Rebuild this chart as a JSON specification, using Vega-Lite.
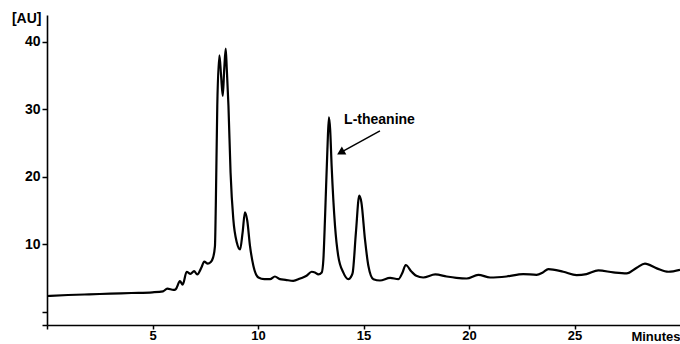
{
  "$schema": "https://vega.github.io/schema/vega-lite/v6.json",
  "width": 633,
  "height": 310,
  "autosize": {"type": "none"},
  "padding": {"left": 47, "top": 15, "right": 0, "bottom": 19},
  "background": "white",
  "config": {
    "view": {"stroke": null},
    "axis": {
      "grid": false,
      "domainColor": "black",
      "domainWidth": 1.6,
      "tickColor": "black",
      "tickWidth": 1.5,
      "labelColor": "black",
      "labelFont": "Liberation Sans",
      "labelFontWeight": "bold",
      "labelFontSize": 14,
      "titleColor": "black",
      "titleFont": "Liberation Sans",
      "titleFontWeight": "bold",
      "titleFontSize": 14
    }
  },
  "datasets": {
    "trace": [
      {"t": 0, "v": 2.3}, {"t": 1, "v": 2.45}, {"t": 2, "v": 2.55}, {"t": 3, "v": 2.65}, {"t": 4, "v": 2.75},
      {"t": 5, "v": 2.85}, {"t": 5.5, "v": 3.0}, {"t": 5.7, "v": 3.4}, {"t": 6.0, "v": 3.2}, {"t": 6.1, "v": 3.3},
      {"t": 6.3, "v": 4.5}, {"t": 6.43, "v": 4.0}, {"t": 6.62, "v": 5.9}, {"t": 6.8, "v": 5.6}, {"t": 6.97, "v": 6.0},
      {"t": 7.12, "v": 5.5}, {"t": 7.33, "v": 6.6}, {"t": 7.45, "v": 7.4}, {"t": 7.62, "v": 7.1}, {"t": 7.75, "v": 7.3},
      {"t": 7.87, "v": 8.0}, {"t": 7.96, "v": 9.7}, {"t": 8.0, "v": 15.7}, {"t": 8.07, "v": 30.5}, {"t": 8.17, "v": 38.0},
      {"t": 8.25, "v": 35}, {"t": 8.33, "v": 32.0}, {"t": 8.4, "v": 36}, {"t": 8.47, "v": 39.0}, {"t": 8.52, "v": 36},
      {"t": 8.6, "v": 30.5}, {"t": 8.7, "v": 20.6}, {"t": 8.83, "v": 13.7}, {"t": 9.0, "v": 10.2}, {"t": 9.15, "v": 9.2},
      {"t": 9.27, "v": 11.7}, {"t": 9.38, "v": 14.7}, {"t": 9.49, "v": 13.5}, {"t": 9.62, "v": 9.75}, {"t": 9.78, "v": 6.8},
      {"t": 10.02, "v": 5.05}, {"t": 10.3, "v": 4.8}, {"t": 10.57, "v": 4.8}, {"t": 10.8, "v": 5.2}, {"t": 11.04, "v": 4.8},
      {"t": 11.3, "v": 4.7}, {"t": 11.67, "v": 4.55}, {"t": 12.0, "v": 4.9}, {"t": 12.3, "v": 5.3}, {"t": 12.54, "v": 5.9},
      {"t": 12.7, "v": 5.8}, {"t": 12.86, "v": 5.5}, {"t": 13.02, "v": 5.8}, {"t": 13.1, "v": 7.8}, {"t": 13.18, "v": 14.2},
      {"t": 13.29, "v": 24.1}, {"t": 13.36, "v": 28.8}, {"t": 13.42, "v": 27}, {"t": 13.49, "v": 21.6}, {"t": 13.65, "v": 12.7},
      {"t": 13.8, "v": 8.3}, {"t": 14.04, "v": 5.8}, {"t": 14.28, "v": 4.8}, {"t": 14.4, "v": 5.1}, {"t": 14.49, "v": 5.8},
      {"t": 14.64, "v": 11.7}, {"t": 14.8, "v": 17.2}, {"t": 14.9, "v": 16.2}, {"t": 15.07, "v": 10.7}, {"t": 15.23, "v": 6.8},
      {"t": 15.47, "v": 4.8}, {"t": 15.78, "v": 4.6}, {"t": 16.26, "v": 5.0}, {"t": 16.65, "v": 4.8}, {"t": 16.85, "v": 5.8},
      {"t": 17.0, "v": 6.9}, {"t": 17.28, "v": 5.9}, {"t": 17.5, "v": 5.3}, {"t": 17.83, "v": 5.05}, {"t": 18.4, "v": 5.5},
      {"t": 18.94, "v": 5.2}, {"t": 19.4, "v": 5.0}, {"t": 19.89, "v": 4.9}, {"t": 20.44, "v": 5.45}, {"t": 21.0, "v": 5.05},
      {"t": 21.78, "v": 5.2}, {"t": 22.57, "v": 5.55}, {"t": 23.2, "v": 5.45}, {"t": 23.5, "v": 5.8}, {"t": 23.76, "v": 6.3},
      {"t": 24.47, "v": 5.9}, {"t": 25.1, "v": 5.4}, {"t": 25.57, "v": 5.55}, {"t": 26.13, "v": 6.1}, {"t": 26.84, "v": 5.8},
      {"t": 27.47, "v": 5.65}, {"t": 27.95, "v": 6.5}, {"t": 28.34, "v": 7.1}, {"t": 28.9, "v": 6.4}, {"t": 29.45, "v": 5.9},
      {"t": 30.0, "v": 6.2}
    ],
    "label": [{"t": 14.08, "v": 28.4, "text": "L-theanine"}],
    "arrow": [{"t": 15.78, "v": 26.8, "t2": 13.97, "v2": 23.7}]
  },
  "layer": [
    {
      "data": {"name": "trace"},
      "mark": {"type": "line", "color": "black", "strokeWidth": 2.2, "interpolate": "monotone", "clip": true},
      "encoding": {
        "x": {
          "field": "t", "type": "quantitative",
          "scale": {"domain": [0, 30], "nice": false, "zero": false},
          "axis": {
            "values": [0, 5, 10, 15, 20, 25],
            "labelExpr": "datum.value > 0 ? datum.label : ''",
            "labelFontSize": 13,
            "tickSize": 4,
            "labelPadding": 0,
            "title": "Minutes",
            "titleFontSize": 13,
            "titleAnchor": "end",
            "titleAlign": "right",
            "titleX": 633,
            "titleY": 11,
            "titleBaseline": "middle"
          }
        },
        "y": {
          "field": "v", "type": "quantitative",
          "scale": {"domain": [-2, 44], "nice": false, "zero": false},
          "axis": {
            "values": [-2, 0, 10, 20, 30, 40],
            "labelExpr": "datum.value >= 10 ? datum.label : ''",
            "tickSize": 5,
            "labelPadding": 2,
            "title": "[AU]",
            "titleAngle": 0,
            "titleAlign": "right",
            "titleBaseline": "middle",
            "titleX": -6,
            "titleY": 3
          }
        }
      }
    },
    {
      "data": {"name": "arrow"},
      "mark": {"type": "rule", "color": "black", "strokeWidth": 1.5},
      "encoding": {
        "x": {"field": "t", "type": "quantitative"},
        "y": {"field": "v", "type": "quantitative"},
        "x2": {"field": "t2"},
        "y2": {"field": "v2"}
      }
    },
    {
      "data": {"name": "arrow"},
      "mark": {"type": "point", "shape": "triangle", "filled": true, "color": "black", "size": 85, "angle": 241, "opacity": 1},
      "encoding": {
        "x": {"field": "t2", "type": "quantitative"},
        "y": {"field": "v2", "type": "quantitative"}
      }
    },
    {
      "data": {"name": "label"},
      "mark": {"type": "text", "align": "left", "baseline": "middle", "font": "Liberation Sans", "fontWeight": "bold", "fontSize": 14, "color": "black"},
      "encoding": {
        "x": {"field": "t", "type": "quantitative"},
        "y": {"field": "v", "type": "quantitative"},
        "text": {"field": "text"}
      }
    }
  ]
}
